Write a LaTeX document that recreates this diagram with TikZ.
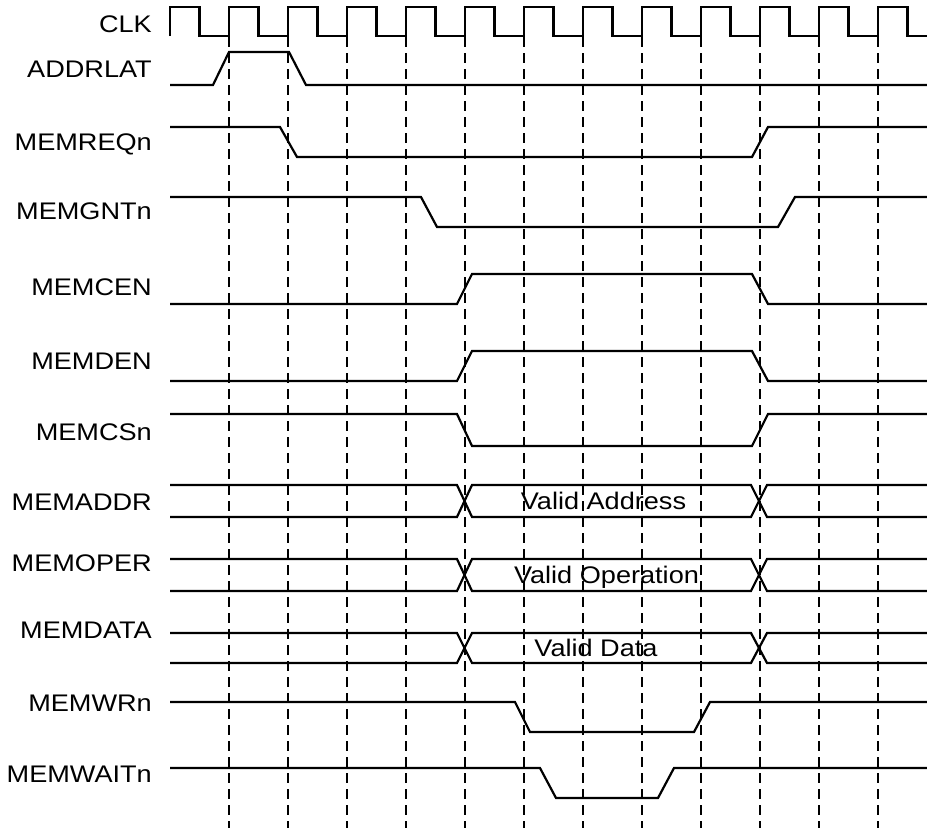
\documentclass[tikz,border=0pt]{standalone}
\usepackage{fontspec}
\setmainfont[FakeStretch=1.13]{Liberation Sans}
\begin{document}
\begin{tikzpicture}[x=1pt,y=-1pt,
	wave/.style={line width=2.2pt,line join=miter},
	tick/.style={line width=2pt,dash pattern=on 10pt off 6pt},
	sig/.style={anchor=base east,inner sep=0pt,font=\fontsize{24}{28}\selectfont},
	busval/.style={anchor=base,inner sep=0pt,font=\fontsize{24}{28}\selectfont}]
	\useasboundingbox (0,0) rectangle (927,830);
	\foreach \x in {0,...,11}
	\draw[tick] (229+59*\x,37) -- (229+59*\x,828);
	\foreach \name/\y in {CLK/32.4,ADDRLAT/77.4,MEMREQn/150,MEMGNTn/219.4,MEMCEN/295.8,MEMDEN/369.4,MEMCSn/440.4,MEMADDR/510.4,MEMOPER/571.4,MEMDATA/638.4,MEMWRn/711.4,MEMWAITn/782.4}
	\node[sig] (\name) at (152,\y) {\name};
	\draw[wave] (170,36) foreach \k in {1,...,12} { -- ++(0,-29) -- ++(29.5,0) -- ++(0,29) -- ++(29.5,0) } -- ++(0,-29) -- ++(29.5,0) -- ++(0,29) -- (927,36);
	\draw[wave] (170,85) -- (213,85) -- (229,52) -- (289,52) -- (306,85) -- (927,85);
	\draw[wave] (170,127) -- (280,127) -- (297,157) -- (752,157) -- (768,127) -- (927,127);
	\draw[wave] (170,197) -- (421,197) -- (437,227) -- (778,227) -- (795,197) -- (927,197);
	\draw[wave] (170,304) -- (457,304) -- (472,274) -- (752,274) -- (768,304) -- (927,304);
	\draw[wave] (170,381) -- (457,381) -- (472,351) -- (752,351) -- (768,381) -- (927,381);
	\draw[wave] (170,414) -- (457,414) -- (472,446) -- (752,446) -- (768,414) -- (927,414);
	\foreach \t/\b in {485/517,559/591,633/663}{
	\draw[wave] (170,\t) -- (457,\t) -- (472,\b) -- (751,\b) -- (767,\t) -- (927,\t);
	\draw[wave] (170,\b) -- (457,\b) -- (472,\t) -- (751,\t) -- (767,\b) -- (927,\b);
	}
	\node[busval] (addr) at (603.5,509.4) {Valid Address};
	\node[busval] (oper) at (606.5,583.4) {Valid Operation};
	\node[busval] (data) at (596,656) {Valid Data};
	\draw[wave] (170,702) -- (515,702) -- (530,732) -- (694,732) -- (710,702) -- (927,702);
	\draw[wave] (170,768) -- (540,768) -- (556,798) -- (658,798) -- (674,768) -- (927,768);
\end{tikzpicture}
\end{document}
